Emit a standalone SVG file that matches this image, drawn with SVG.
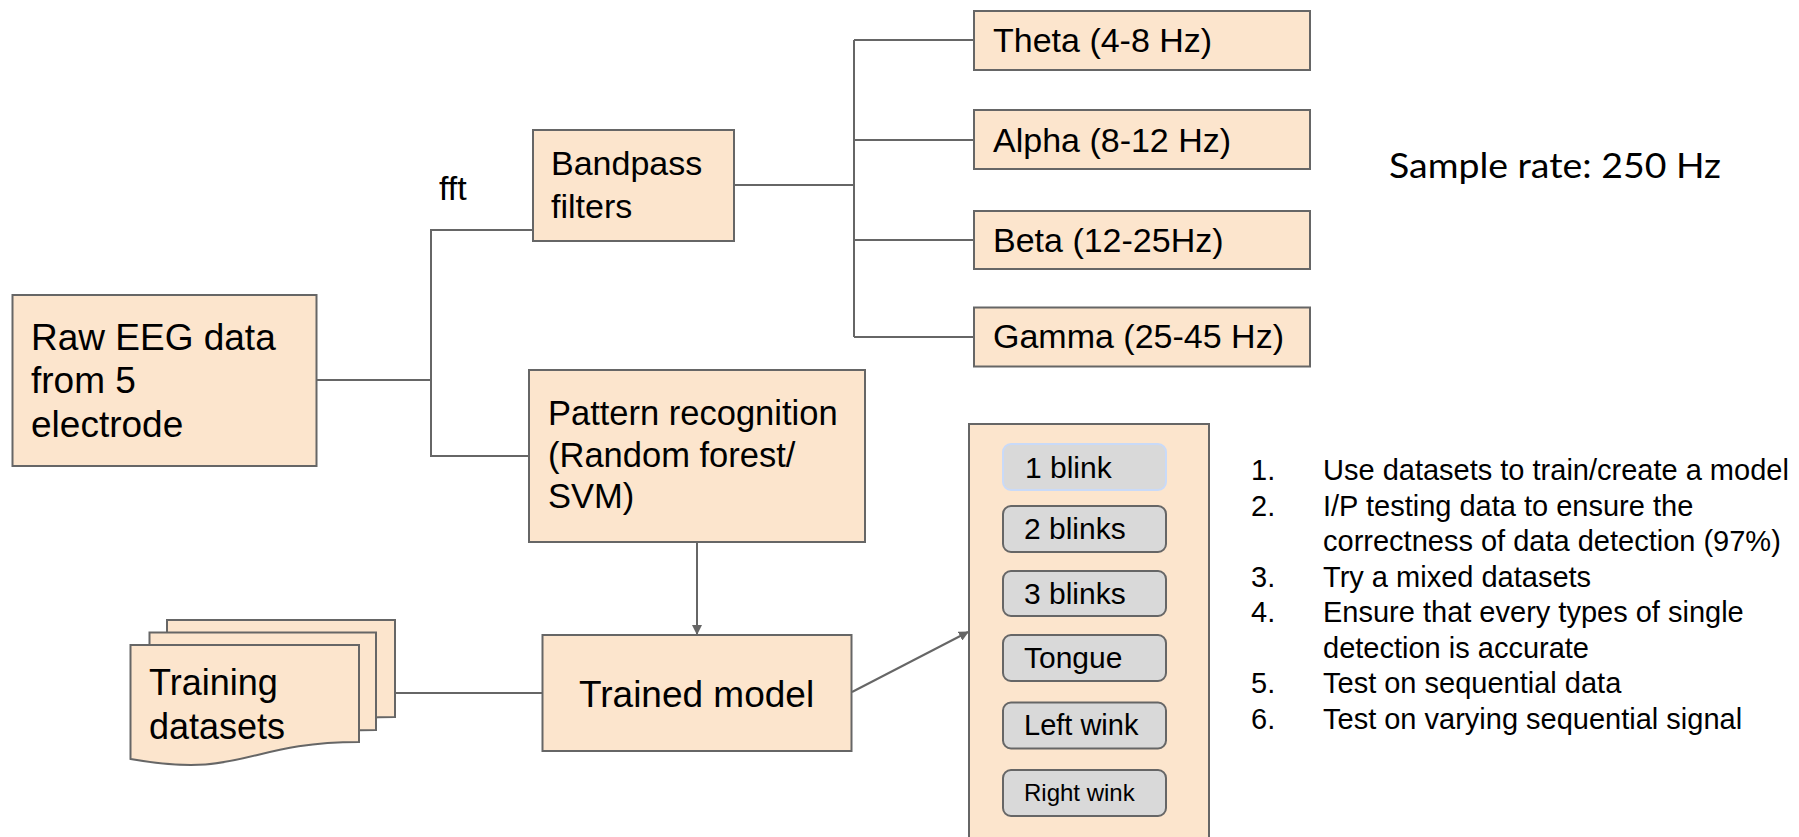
<svg xmlns="http://www.w3.org/2000/svg" width="1799" height="837" viewBox="0 0 1799 837">
<defs>
<style>
.box{fill:#fce5cd;stroke:#666666;stroke-width:2}
.item{fill:#d9d9d9;stroke:#666666;stroke-width:2}
.t{font-family:"Liberation Sans",Arial,sans-serif;fill:#000}
.c{fill:none;stroke:#666666;stroke-width:2}
</style>
<marker id="ah" viewBox="0 0 10 10" refX="9" refY="5" markerWidth="10" markerHeight="10" markerUnits="userSpaceOnUse" orient="auto">
<path d="M0,0 L10,5 L0,10 Z" fill="#666666"/>
</marker>
</defs>
<rect width="1799" height="837" fill="#ffffff"/>
<g id="connectors">
<path class="c" d="M316,380 H431 V230 H533"/>
<path class="c" d="M316,380 H431 V456 H529"/>
<path class="c" d="M734,185 H854"/>
<path class="c" d="M854,40 V337"/>
<path class="c" d="M854,40 H974 M854,140 H974 M854,240 H974 M854,337 H974"/>
<path class="c" d="M697,542 V634" marker-end="url(#ah)"/>
<path class="c" d="M395,693 H542"/>
<path class="c" d="M852,692 L968,632" marker-end="url(#ah)"/>
</g>
<g id="raw">
<rect class="box" x="12.5" y="295" width="304" height="171"/>
<text class="t" font-size="37" x="31" y="350">Raw EEG data</text>
<text class="t" font-size="37" x="31" y="393">from 5</text>
<text class="t" font-size="37" x="31" y="437">electrode</text>
</g>
<text id="fft" class="t" font-size="34" x="439" y="200">fft</text>
<g id="bandpass">
<rect class="box" x="533" y="130" width="201" height="111"/>
<text class="t" font-size="34" x="551" y="175">Bandpass</text>
<text class="t" font-size="34" x="551" y="218">filters</text>
</g>
<g id="theta">
<rect class="box" x="974" y="11" width="336" height="59"/>
<text class="t" font-size="34" x="993" y="52">Theta (4-8 Hz)</text>
</g>
<g id="alpha">
<rect class="box" x="974" y="110" width="336" height="59"/>
<text class="t" font-size="34" x="993" y="152">Alpha (8-12 Hz)</text>
</g>
<g id="beta">
<rect class="box" x="974" y="211" width="336" height="58"/>
<text class="t" font-size="34" x="993" y="252">Beta (12-25Hz)</text>
</g>
<g id="gamma">
<rect class="box" x="974" y="307.5" width="336" height="59"/>
<text class="t" font-size="34" x="993" y="348">Gamma (25-45 Hz)</text>
</g>
<text id="samplerate" x="1389" y="178" font-family="Lato,'Open Sans',sans-serif" font-size="34" textLength="332" lengthAdjust="spacingAndGlyphs" fill="#000">Sample rate: 250 Hz</text>
<g id="pattern">
<rect class="box" x="529" y="370" width="336" height="172"/>
<text class="t" font-size="34.5" x="548" y="425">Pattern recognition</text>
<text class="t" font-size="34.5" x="548" y="467">(Random forest/</text>
<text class="t" font-size="34.5" x="548" y="508">SVM)</text>
</g>
<g id="training">
<path class="box" d="M167,620 H395 V717 C281,717 281,754 167,734 Z"/>
<path class="box" d="M149.5,632.5 H376 V730 C263,730 263,767 149.5,747 Z"/>
<path class="box" d="M130.5,645 H359 V742 C245,742 245,779 130.5,759 Z"/>
<text class="t" font-size="36" x="149" y="695">Training</text>
<text class="t" font-size="36" x="149" y="739">datasets</text>
</g>
<g id="trained">
<rect class="box" x="542.5" y="635" width="309" height="116"/>
<text class="t" font-size="37" x="579" y="707">Trained model</text>
</g>
<g id="gestures">
<rect class="box" x="969" y="424" width="240" height="430"/>
<rect class="item" x="1003" y="444" width="163" height="46" rx="8" style="stroke:#c9daf8"/>
<text class="t" font-size="30" x="1025" y="478">1 blink</text>
<rect class="item" x="1003" y="506" width="163" height="46" rx="8"/>
<text class="t" font-size="30" x="1024" y="539">2 blinks</text>
<rect class="item" x="1003" y="571" width="163" height="45" rx="8"/>
<text class="t" font-size="30" x="1024" y="604">3 blinks</text>
<rect class="item" x="1003" y="635" width="163" height="46" rx="8"/>
<text class="t" font-size="30" x="1024" y="668">Tongue</text>
<rect class="item" x="1003" y="702.5" width="163" height="46" rx="8"/>
<text class="t" font-size="29" x="1024" y="735">Left wink</text>
<rect class="item" x="1003" y="770" width="163" height="46" rx="8"/>
<text class="t" font-size="24" x="1024" y="801">Right wink</text>
</g>
<g id="steps" class="t" font-size="29">
<text x="1251" y="480">1.</text><text x="1323" y="480">Use datasets to train/create a model</text>
<text x="1251" y="515.5">2.</text><text x="1323" y="515.5">I/P testing data to ensure the</text>
<text x="1323" y="551">correctness of data detection (97%)</text>
<text x="1251" y="587">3.</text><text x="1323" y="587">Try a mixed datasets</text>
<text x="1251" y="622">4.</text><text x="1323" y="622">Ensure that every types of single</text>
<text x="1323" y="657.5">detection is accurate</text>
<text x="1251" y="693">5.</text><text x="1323" y="693">Test on sequential data</text>
<text x="1251" y="729">6.</text><text x="1323" y="729">Test on varying sequential signal</text>
</g>
</svg>
